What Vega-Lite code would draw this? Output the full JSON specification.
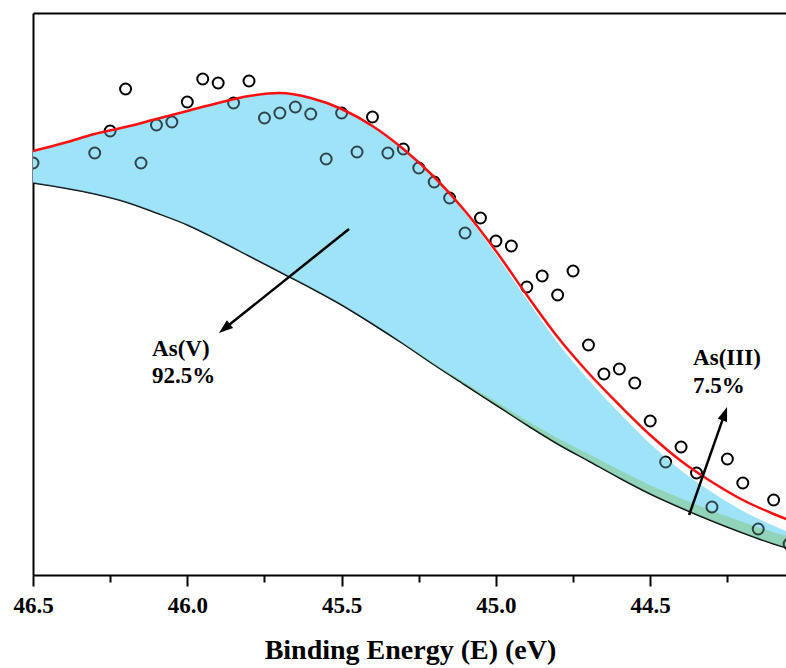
{
  "$schema": "https://vega.github.io/schema/vega-lite/v6.json",
  "width": 753,
  "height": 562,
  "autosize": {"type": "none"},
  "padding": {"left": 33, "top": 13, "right": 0, "bottom": 93},
  "background": "white",
  "config": {
    "view": {"stroke": null},
    "font": "Liberation Serif"
  },
  "datasets": {
    "curves": [
      {"E": 46.5, "bg": 392, "fit": 424, "vtop": 424, "iiitop": 392},
      {"E": 46.4, "bg": 387, "fit": 432, "vtop": 432, "iiitop": 387},
      {"E": 46.3, "bg": 381, "fit": 441, "vtop": 441, "iiitop": 381},
      {"E": 46.2, "bg": 373, "fit": 448, "vtop": 448, "iiitop": 373},
      {"E": 46.1, "bg": 362, "fit": 456, "vtop": 456, "iiitop": 362},
      {"E": 46.0, "bg": 350, "fit": 464, "vtop": 464, "iiitop": 350},
      {"E": 45.9, "bg": 335, "fit": 472, "vtop": 472, "iiitop": 335},
      {"E": 45.8, "bg": 319, "fit": 479, "vtop": 479, "iiitop": 319},
      {"E": 45.7, "bg": 303, "fit": 482, "vtop": 482, "iiitop": 303},
      {"E": 45.6, "bg": 287, "fit": 477, "vtop": 477, "iiitop": 287},
      {"E": 45.5, "bg": 270, "fit": 466, "vtop": 465.7, "iiitop": 270.3},
      {"E": 45.4, "bg": 251, "fit": 449, "vtop": 448.4, "iiitop": 251.6},
      {"E": 45.3, "bg": 231, "fit": 426, "vtop": 425, "iiitop": 232},
      {"E": 45.2, "bg": 210, "fit": 398, "vtop": 396.5, "iiitop": 211.5},
      {"E": 45.1, "bg": 190, "fit": 364, "vtop": 361.8, "iiitop": 192.2},
      {"E": 45.0, "bg": 170, "fit": 324, "vtop": 320.6, "iiitop": 173.4},
      {"E": 44.9, "bg": 150, "fit": 280, "vtop": 275.4, "iiitop": 154.6},
      {"E": 44.8, "bg": 131, "fit": 238, "vtop": 232.2, "iiitop": 136.8},
      {"E": 44.7, "bg": 114, "fit": 202, "vtop": 195, "iiitop": 121},
      {"E": 44.6, "bg": 97, "fit": 170, "vtop": 162, "iiitop": 105},
      {"E": 44.5, "bg": 81, "fit": 140, "vtop": 131.2, "iiitop": 89.8},
      {"E": 44.4, "bg": 67, "fit": 114, "vtop": 104.4, "iiitop": 76.6},
      {"E": 44.3, "bg": 54, "fit": 93, "vtop": 82.7, "iiitop": 64.3},
      {"E": 44.2, "bg": 42, "fit": 75, "vtop": 64, "iiitop": 53},
      {"E": 44.1, "bg": 31, "fit": 61, "vtop": 49.2, "iiitop": 42.8},
      {"E": 44.0, "bg": 22, "fit": 49, "vtop": 36.6, "iiitop": 34.4}
    ],
    "pts": [
      {"E": 46.50, "I": 412}, {"E": 46.30, "I": 422}, {"E": 46.25, "I": 444},
      {"E": 46.20, "I": 486}, {"E": 46.15, "I": 412}, {"E": 46.10, "I": 450},
      {"E": 46.05, "I": 453}, {"E": 46.00, "I": 473}, {"E": 45.95, "I": 496},
      {"E": 45.90, "I": 492}, {"E": 45.85, "I": 472}, {"E": 45.80, "I": 494},
      {"E": 45.75, "I": 457}, {"E": 45.70, "I": 462}, {"E": 45.65, "I": 468},
      {"E": 45.60, "I": 461}, {"E": 45.55, "I": 416}, {"E": 45.50, "I": 462},
      {"E": 45.45, "I": 423}, {"E": 45.40, "I": 458}, {"E": 45.35, "I": 422},
      {"E": 45.30, "I": 426}, {"E": 45.25, "I": 407}, {"E": 45.20, "I": 393},
      {"E": 45.15, "I": 377}, {"E": 45.10, "I": 342}, {"E": 45.05, "I": 357},
      {"E": 45.00, "I": 334}, {"E": 44.95, "I": 329}, {"E": 44.90, "I": 288},
      {"E": 44.85, "I": 299}, {"E": 44.80, "I": 280}, {"E": 44.75, "I": 304},
      {"E": 44.70, "I": 230}, {"E": 44.65, "I": 201}, {"E": 44.60, "I": 206},
      {"E": 44.55, "I": 192}, {"E": 44.50, "I": 154}, {"E": 44.45, "I": 113},
      {"E": 44.40, "I": 128}, {"E": 44.35, "I": 102}, {"E": 44.30, "I": 68},
      {"E": 44.25, "I": 116}, {"E": 44.20, "I": 92}, {"E": 44.15, "I": 46},
      {"E": 44.10, "I": 75}, {"E": 44.05, "I": 31}
    ],
    "labels": [
      {"E": 46.114, "I": 219, "text": "As(V)"},
      {"E": 46.114, "I": 192, "text": "92.5%"},
      {"E": 44.361, "I": 210, "text": "As(III)"},
      {"E": 44.361, "I": 182, "text": "7.5%"}
    ],
    "arrows": [
      {"E1": 45.476, "I1": 346, "E2": 45.8795, "I2": 246.4},
      {"E1": 44.374, "I1": 60, "E2": 44.2586, "I2": 161.4}
    ],
    "headV": [{"E": 45.8795, "I": 246.4}],
    "headIII": [{"E": 44.2586, "I": 161.4}]
  },
  "resolve": {"axis": {"x": "independent", "y": "independent"}},
  "layer": [
    {
      "data": {"name": "curves"},
      "mark": {"type": "area", "interpolate": "monotone", "color": "#a0e3fa", "clip": true},
      "encoding": {
        "x": {"field": "E", "type": "quantitative",
              "scale": {"domain": [46.5, 44.06], "nice": false, "zero": false},
              "axis": {"orient": "bottom", "values": [46.5, 46.0, 45.5, 45.0, 44.5], "format": ".1f",
                       "grid": false, "domainColor": "black", "domainWidth": 2,
                       "tickColor": "black", "tickWidth": 2, "tickSize": 11,
                       "labelFont": "Liberation Serif", "labelFontWeight": "bold", "labelFontSize": 23,
                       "labelColor": "black", "labelBaseline": "alphabetic", "labelPadding": 26,
                       "labelFlush": false,
                       "title": "Binding Energy (E) (eV)", "titleFont": "Liberation Serif",
                       "titleFontWeight": "bold", "titleFontSize": 28, "titleColor": "black",
                       "titleBaseline": "alphabetic", "titleAlign": "center", "titleAnchor": null,
                       "titleX": 377, "titleY": 83}},
        "y": {"field": "bg", "type": "quantitative", "scale": {"domain": [0, 562], "nice": false, "zero": false},
              "axis": {"orient": "left", "labels": false, "ticks": false, "grid": false, "title": null,
                       "domainColor": "black", "domainWidth": 2}},
        "y2": {"field": "vtop"}
      }
    },
    {
      "data": {"name": "curves"},
      "mark": {"type": "area", "interpolate": "monotone", "color": "#93d5b9", "clip": true},
      "encoding": {
        "x": {"field": "E", "type": "quantitative",
              "axis": {"orient": "bottom", "values": [46.25, 45.75, 45.25, 44.75, 44.25],
                       "labels": false, "domain": false, "grid": false, "title": null,
                       "tickColor": "black", "tickWidth": 2, "tickSize": 7}},
        "y": {"field": "bg", "type": "quantitative", "axis": null},
        "y2": {"field": "iiitop"}
      }
    },
    {
      "data": {"name": "curves"},
      "mark": {"type": "line", "interpolate": "monotone", "color": "black", "strokeWidth": 1.5, "clip": true},
      "encoding": {
        "x": {"field": "E", "type": "quantitative",
              "axis": {"orient": "top", "labels": false, "ticks": false, "grid": false, "title": null,
                       "domainColor": "black", "domainWidth": 2}},
        "y": {"field": "bg", "type": "quantitative", "axis": null}
      }
    },
    {
      "data": {"name": "pts"},
      "mark": {"type": "point", "shape": "circle", "filled": false, "stroke": "black", "strokeWidth": 2,
               "size": 120, "opacity": 1, "clip": true},
      "encoding": {
        "x": {"field": "E", "type": "quantitative", "axis": null},
        "y": {"field": "I", "type": "quantitative", "axis": null}
      }
    },
    {
      "data": {"name": "curves"},
      "mark": {"type": "area", "interpolate": "monotone", "color": "#a0e3fa", "opacity": 0.3, "clip": true},
      "encoding": {
        "x": {"field": "E", "type": "quantitative", "axis": null},
        "y": {"field": "iiitop", "type": "quantitative", "axis": null},
        "y2": {"field": "vtop"}
      }
    },
    {
      "data": {"name": "curves"},
      "mark": {"type": "area", "interpolate": "monotone", "color": "#93d5b9", "opacity": 0.3, "clip": true},
      "encoding": {
        "x": {"field": "E", "type": "quantitative", "axis": null},
        "y": {"field": "bg", "type": "quantitative", "axis": null},
        "y2": {"field": "iiitop"}
      }
    },
    {
      "data": {"name": "curves"},
      "mark": {"type": "line", "interpolate": "monotone", "color": "#ff1010", "strokeWidth": 2.5, "clip": true},
      "encoding": {
        "x": {"field": "E", "type": "quantitative", "axis": null},
        "y": {"field": "fit", "type": "quantitative", "axis": null}
      }
    },
    {
      "data": {"name": "arrows"},
      "mark": {"type": "rule", "color": "black", "strokeWidth": 2.5},
      "encoding": {
        "x": {"field": "E1", "type": "quantitative", "axis": null},
        "y": {"field": "I1", "type": "quantitative", "axis": null},
        "x2": {"field": "E2"},
        "y2": {"field": "I2"}
      }
    },
    {
      "data": {"name": "headV"},
      "mark": {"type": "point", "shape": "M0,-1L0.7,1L-0.7,1Z", "filled": true, "color": "black",
               "size": 200, "opacity": 1, "angle": 231.3},
      "encoding": {
        "x": {"field": "E", "type": "quantitative", "axis": null},
        "y": {"field": "I", "type": "quantitative", "axis": null}
      }
    },
    {
      "data": {"name": "headIII"},
      "mark": {"type": "point", "shape": "M0,-1L0.7,1L-0.7,1Z", "filled": true, "color": "black",
               "size": 200, "opacity": 1, "angle": 19.4},
      "encoding": {
        "x": {"field": "E", "type": "quantitative", "axis": null},
        "y": {"field": "I", "type": "quantitative", "axis": null}
      }
    },
    {
      "data": {"name": "labels"},
      "mark": {"type": "text", "align": "left", "baseline": "alphabetic", "font": "Liberation Serif",
               "fontWeight": "bold", "fontSize": 23, "color": "black"},
      "encoding": {
        "x": {"field": "E", "type": "quantitative", "axis": null},
        "y": {"field": "I", "type": "quantitative", "axis": null},
        "text": {"field": "text"}
      }
    }
  ]
}
